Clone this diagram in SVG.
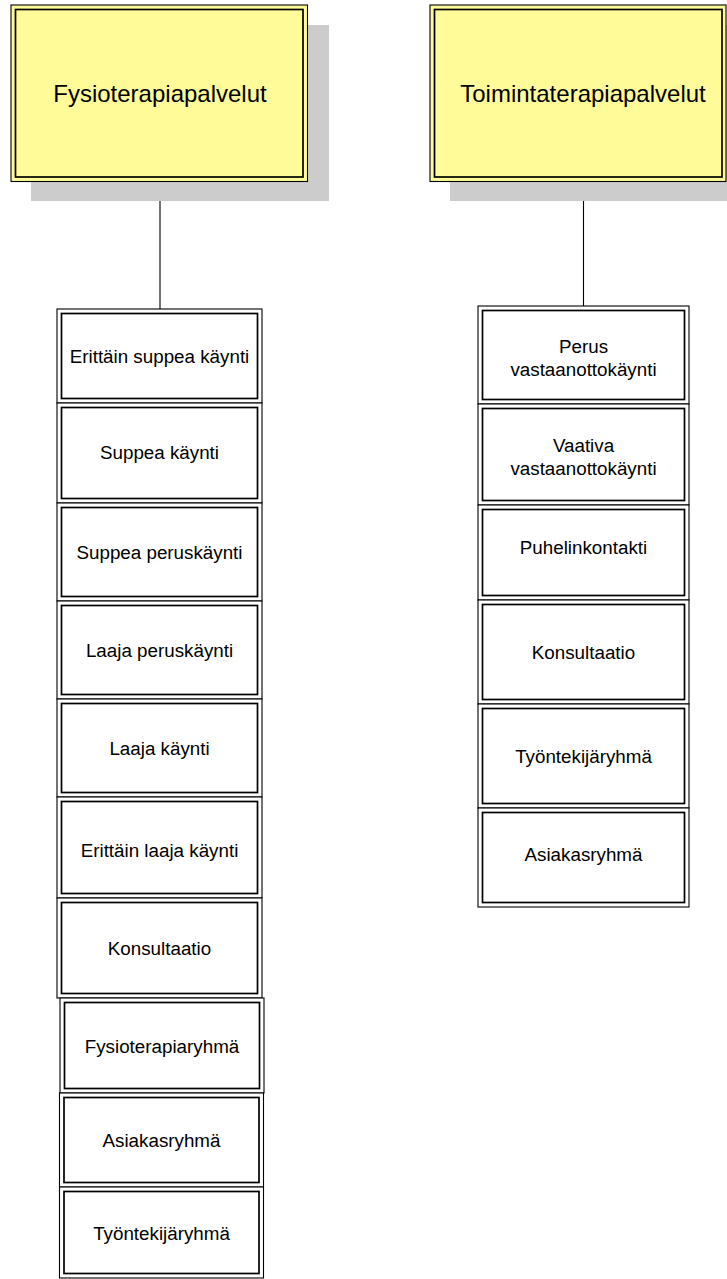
<svg xmlns="http://www.w3.org/2000/svg" width="727" height="1279" viewBox="0 0 727 1279">
<style>
.shadow{fill:#cccccc}
.to{fill:#fffb99;stroke:#000;stroke-width:1.1}
.ti{fill:#fffb99;stroke:#000;stroke-width:1.7}
.o{fill:#fff;stroke:#000;stroke-width:1.1}
.i{fill:#fff;stroke:#000;stroke-width:1.7}
.tt{font-family:"Liberation Sans",Arial,sans-serif;font-size:24px;fill:#000;text-anchor:middle}
.t{font-family:"Liberation Sans",Arial,sans-serif;font-size:18.8px;fill:#000;text-anchor:middle}
.c{stroke:#000;stroke-width:1.1;fill:none}
</style>
<rect width="727" height="1279" fill="#fff"/>
<g id="connectors">
<line class="c" x1="160" y1="181" x2="160" y2="309"/>
<line class="c" x1="583.5" y1="181" x2="583.5" y2="306"/>
</g>
<g id="fysioterapiapalvelut">
<rect class="shadow" x="31" y="25" width="298" height="176"/>
<rect class="to" x="11" y="5" width="296.5" height="176.5"/>
<rect class="ti" x="15.5" y="9.5" width="287.5" height="167.5"/>
<text class="tt" x="160" y="102">Fysioterapiapalvelut</text>
</g>
<g id="toimintaterapiapalvelut">
<rect class="shadow" x="450" y="25" width="298" height="176"/>
<rect class="to" x="430" y="5" width="296" height="176.5"/>
<rect class="ti" x="434.5" y="9.5" width="287.5" height="167.5"/>
<text class="tt" x="583" y="102">Toimintaterapiapalvelut</text>
</g>
<g id="f1"><rect class="o" x="57" y="309" width="205" height="94"/><rect class="i" x="61.5" y="313.5" width="196" height="85"/><text class="t" x="159.5" y="363">Erittäin suppea käynti</text></g>
<g id="f2"><rect class="o" x="57" y="403" width="205" height="100"/><rect class="i" x="61.5" y="407.5" width="196" height="91"/><text class="t" x="159.5" y="459">Suppea käynti</text></g>
<g id="f3"><rect class="o" x="57" y="503" width="205" height="98"/><rect class="i" x="61.5" y="507.5" width="196" height="89"/><text class="t" x="159.5" y="559">Suppea peruskäynti</text></g>
<g id="f4"><rect class="o" x="57" y="601" width="205" height="98"/><rect class="i" x="61.5" y="605.5" width="196" height="89"/><text class="t" x="159.5" y="657">Laaja peruskäynti</text></g>
<g id="f5"><rect class="o" x="57" y="699" width="205" height="98"/><rect class="i" x="61.5" y="703.5" width="196" height="89"/><text class="t" x="159.5" y="755">Laaja käynti</text></g>
<g id="f6"><rect class="o" x="57" y="797" width="205" height="101"/><rect class="i" x="61.5" y="801.5" width="196" height="92"/><text class="t" x="159.5" y="857">Erittäin laaja käynti</text></g>
<g id="f7"><rect class="o" x="57" y="898" width="205" height="100"/><rect class="i" x="61.5" y="902.5" width="196" height="91"/><text class="t" x="159.5" y="955">Konsultaatio</text></g>
<g id="f8"><rect class="o" x="60" y="998" width="204" height="95"/><rect class="i" x="64.5" y="1002.5" width="195" height="86"/><text class="t" x="162" y="1053">Fysioterapiaryhmä</text></g>
<g id="f9"><rect class="o" x="59.5" y="1093" width="204" height="94"/><rect class="i" x="64" y="1097.5" width="195" height="85"/><text class="t" x="161.5" y="1147">Asiakasryhmä</text></g>
<g id="f10"><rect class="o" x="59.5" y="1187" width="204" height="91"/><rect class="i" x="64" y="1191.5" width="195" height="82"/><text class="t" x="161.5" y="1240">Työntekijäryhmä</text></g>
<g id="t1"><rect class="o" x="478" y="306" width="211" height="98"/><rect class="i" x="482.5" y="310.5" width="202" height="89"/><text class="t" x="583.5" y="353">Perus</text><text class="t" x="583.5" y="376">vastaanottokäynti</text></g>
<g id="t2"><rect class="o" x="478" y="404" width="211" height="101"/><rect class="i" x="482.5" y="408.5" width="202" height="92"/><text class="t" x="583.5" y="452">Vaativa</text><text class="t" x="583.5" y="475">vastaanottokäynti</text></g>
<g id="t3"><rect class="o" x="478" y="505" width="211" height="95"/><rect class="i" x="482.5" y="509.5" width="202" height="86"/><text class="t" x="583.5" y="554">Puhelinkontakti</text></g>
<g id="t4"><rect class="o" x="478" y="600" width="211" height="104"/><rect class="i" x="482.5" y="604.5" width="202" height="95"/><text class="t" x="583.5" y="659">Konsultaatio</text></g>
<g id="t5"><rect class="o" x="478" y="704" width="211" height="104"/><rect class="i" x="482.5" y="708.5" width="202" height="95"/><text class="t" x="583.5" y="763">Työntekijäryhmä</text></g>
<g id="t6"><rect class="o" x="478" y="808" width="211" height="99"/><rect class="i" x="482.5" y="812.5" width="202" height="90"/><text class="t" x="583.5" y="861">Asiakasryhmä</text></g>
</svg>
